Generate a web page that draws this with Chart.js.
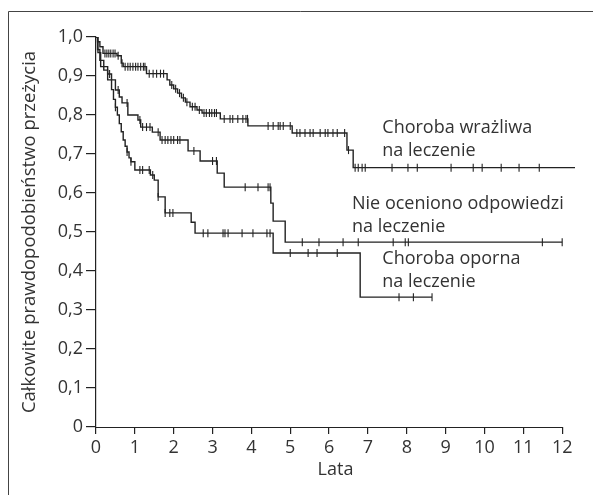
<!DOCTYPE html>
<html><head><meta charset="utf-8">
<script src="https://cdn.jsdelivr.net/npm/chart.js@4/dist/chart.umd.min.js"></script>
<style>html,body{margin:0;padding:0;background:#fff;}#wrap{width:593px;height:495px;}</style>
</head><body><div id="wrap"><canvas id="c" width="593" height="495"></canvas></div>
<script>
// ---- data ----
const xTickValues = [0,1,2,3,4,5,6,7,8,9,10,11,12];
const xTickLabels = ['0','1','2','3','4','5','6','7','8','9','10','11','12'];
const yTickValues = [0,0.1,0.2,0.3,0.4,0.5,0.6,0.7,0.8,0.9,1.0];
const yTickLabels = ['0','0,1','0,2','0,3','0,4','0,5','0,6','0,7','0,8','0,9','1,0'];

// Choroba wrażliwa na leczenie
const sensTimes = [0,0.04,0.1,0.18,0.54,0.65,0.7,1.3,1.83,1.9,2.0,2.1,2.2,2.3,2.42,2.6,2.73,3.2,3.91,5.05,6.46,6.62];
const sensSurv  = [1.0,0.988,0.975,0.958,0.952,0.933,0.924,0.906,0.89,0.877,0.867,0.856,0.844,0.833,0.821,0.813,0.805,0.79,0.772,0.754,0.71,0.665];
const sensEnd = 12.33;
const sensCensor = [0.23,0.28,0.33,0.38,0.44,0.49,0.57,0.67,0.75,0.82,0.88,0.95,1.02,1.08,1.15,1.22,1.26,1.37,1.47,1.56,1.66,1.74,1.95,2.05,2.15,2.25,2.34,2.48,2.55,2.66,2.78,2.84,2.92,2.98,3.05,3.1,3.3,3.45,3.52,3.65,3.78,3.86,3.9,4.43,4.56,4.69,4.74,4.82,5.0,5.17,5.25,5.38,5.51,5.59,5.77,5.9,5.97,6.1,6.21,6.4,6.5,6.67,6.75,6.85,6.93,7.62,8.03,8.27,9.14,9.71,9.94,10.43,10.89,11.41];

// Nie oceniono odpowiedzi na leczenie
const unkTimes = [0,0.05,0.12,0.3,0.4,0.5,0.6,0.67,0.82,1.08,1.15,1.45,1.65,2.37,2.68,3.12,3.3,4.5,4.56,4.87];
const unkSurv  = [1.0,0.96,0.924,0.905,0.89,0.864,0.846,0.831,0.8,0.787,0.769,0.756,0.736,0.708,0.682,0.651,0.615,0.574,0.528,0.474];
const unkEnd = 12.0;
const unkCensor = [0.35,0.57,0.8,1.13,1.2,1.3,1.39,1.6,1.7,1.78,1.85,1.93,2.0,2.1,2.16,2.52,3.0,3.1,3.84,4.17,4.43,4.48,5.31,5.74,6.36,6.75,7.65,7.96,8.04,11.49,12.0];

// Choroba oporna na leczenie
const refTimes = [0,0.04,0.1,0.2,0.3,0.4,0.45,0.5,0.55,0.6,0.65,0.7,0.75,0.8,0.85,0.9,1.0,1.4,1.5,1.6,1.78,2.45,2.55,4.56,6.8];
const refSurv  = [1.0,0.968,0.94,0.915,0.89,0.865,0.84,0.82,0.8,0.778,0.757,0.736,0.72,0.705,0.69,0.68,0.659,0.646,0.633,0.59,0.549,0.525,0.497,0.446,0.333];
const refEnd = 8.65;
const refCensor = [0.5,0.8,0.9,1.13,1.2,1.37,1.46,1.6,1.78,1.9,1.98,2.76,2.88,3.27,3.32,3.4,3.76,4.04,4.4,4.48,5.0,5.46,5.69,6.21,7.8,8.17,8.65];

const curveLabels = [
  ['Choroba wrażliwa','na leczenie'],
  ['Nie oceniono odpowiedzi','na leczenie'],
  ['Choroba oporna','na leczenie']
];
const xTitle = 'Lata';
const yTitle = 'Całkowite prawdopodobieństwo przeżycia';

// ---- presentation ----
const INK = '#222';
const TXT = '#333';
const FONT = '"Open Sans", "DejaVu Sans", sans-serif';
const labelAnchors = [ {t:7.37, s:0.767}, {t:6.59, s:0.572}, {t:7.37, s:0.431} ];
const labelLineStep = 0.059;

function stepValue(times, surv, t){
  let v = surv[0];
  for (let i=0;i<times.length;i++){ if (times[i] <= t + 1e-9) v = surv[i]; }
  return v;
}
function curve(times, surv, end){
  const pts = times.map((t,i)=>({x:t,y:surv[i]}));
  pts.push({x:end, y:surv[surv.length-1]});
  return pts;
}
function censor(times, surv, cens){
  return cens.map(t=>({x:t, y:stepValue(times, surv, t)}));
}
function lineDs(data){
  return {type:'line', data, stepped:true, borderColor:INK, borderWidth:1.4, pointRadius:0, fill:false, tension:0};
}
function markDs(data){
  return {type:'scatter', data, showLine:false, pointStyle:'line', rotation:90, pointRadius:4, pointBorderWidth:1.1, borderColor:INK, backgroundColor:INK, pointHoverRadius:4};
}

const overlay = {
  id:'overlay',
  beforeDraw(chart){
    const ctx = chart.ctx;
    ctx.save();
    ctx.strokeStyle = '#444'; ctx.lineWidth = 1;
    ctx.beginPath();
    ctx.moveTo(8.5, 495); ctx.lineTo(8.5, 11.5); ctx.lineTo(593, 11.5);
    ctx.stroke();
    ctx.restore();
  },
  afterDraw(chart){
    const {ctx, scales:{x, y}} = chart;
    ctx.save();
    ctx.strokeStyle = INK; ctx.lineWidth = 1.2;
    const py = Math.round(y.getPixelForValue(0)) + 0.5;
    ctx.beginPath();
    ctx.moveTo(x.getPixelForValue(0), py);
    ctx.lineTo(x.getPixelForValue(xTickValues[xTickValues.length-1]), py);
    ctx.stroke();
    ctx.fillStyle = TXT;
    ctx.font = '18px ' + FONT;
    ctx.textAlign = 'left'; ctx.textBaseline = 'middle';
    curveLabels.forEach((lines, k)=>{
      const a = labelAnchors[k];
      lines.forEach((ln, j)=>{
        ctx.fillText(ln, x.getPixelForValue(a.t), y.getPixelForValue(a.s - j*labelLineStep));
      });
    });
    ctx.restore();
  }
};

new Chart(document.getElementById('c'), {
  data: {
    datasets: [
      lineDs(curve(sensTimes, sensSurv, sensEnd)),
      lineDs(curve(unkTimes, unkSurv, unkEnd)),
      lineDs(curve(refTimes, refSurv, refEnd)),
      markDs(censor(sensTimes, sensSurv, sensCensor)),
      markDs(censor(unkTimes, unkSurv, unkCensor)),
      markDs(censor(refTimes, refSurv, refCensor))
    ]
  },
  options: {
    responsive:false, animation:false,
    layout:{padding:{left:0, top:37, right:18, bottom:0}},
    plugins:{legend:{display:false}, tooltip:{enabled:false}},
    scales:{
      x:{
        type:'linear', min:0, max:sensEnd,
        afterBuildTicks(s){ s.ticks = xTickValues.map(v=>({value:v})); },
        afterFit(s){ s.height = 68; },
        ticks:{ callback:(v,i)=>xTickLabels[i], color:TXT, font:{family:FONT, size:18}, padding:3, maxRotation:0, autoSkip:false },
        grid:{ drawOnChartArea:false, drawTicks:true, tickLength:7, color:INK, lineWidth:1.2 },
        border:{ display:false },
        title:{ display:true, text:xTitle, color:TXT, font:{family:FONT, size:18}, padding:{top:0, bottom:14} }
      },
      y:{
        type:'linear', min:0, max:1.0,
        afterBuildTicks(s){ s.ticks = yTickValues.map(v=>({value:v})); },
        afterFit(s){ s.width = 96; },
        ticks:{ callback:(v,i)=>yTickLabels[i], color:TXT, font:{family:FONT, size:18}, padding:3, autoSkip:false },
        grid:{ drawOnChartArea:false, drawTicks:true, tickLength:10, color:INK, lineWidth:1.2 },
        border:{ display:true, color:INK, width:1.2 },
        title:{ display:true, text:yTitle, color:TXT, font:{family:FONT, size:18.5}, padding:{top:19, bottom:0} }
      }
    }
  },
  plugins:[overlay]
});
</script></body></html>
